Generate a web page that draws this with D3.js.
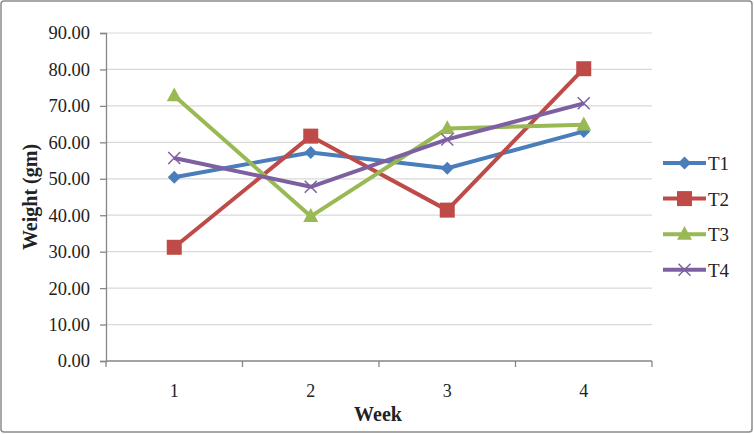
<!DOCTYPE html>
<html>
<head>
<meta charset="utf-8">
<script src="https://cdn.jsdelivr.net/npm/d3@7"></script>
<style>
  body { margin: 0; background: #fff; }
  text { font-family: "Liberation Serif", "DejaVu Serif", serif; fill: #222; }
</style>
</head>
<body>
<div id="Chart"></div>
<script>
// data
const weeks = ["1", "2", "3", "4"]
const seriesNames = ["T1", "T2", "T3", "T4"]
const t1 = [50.4, 57.2, 52.9, 63.0]
const t2 = [31.2, 61.7, 41.4, 80.2]
const t3 = [72.8, 39.7, 63.8, 64.8]
const t4 = [55.7, 47.8, 60.8, 70.7]
const yTicks = [0, 10, 20, 30, 40, 50, 60, 70, 80, 90]

const colors = ["#4a7ebb", "#be4b48", "#98b954", "#7d60a0"]
const shapes = ["diamond", "square", "triangle", "cross"]
const series = seriesNames.map((n, i) => ({name: n, values: [t1, t2, t3, t4][i], color: colors[i], shape: shapes[i]}))

var Width = 754, Height = 434
var margin = {top: 33, right: 102, bottom: 73, left: 106},
    width = Width - margin.left - margin.right,
    height = Height - margin.top - margin.bottom

var root = d3.select("#Chart").append("svg")
    .attr("width", Width)
    .attr("height", Height)

// outer chart border
root.append("rect")
    .attr("x", 1).attr("y", 1)
    .attr("width", Width - 3).attr("height", Height - 3)
    .attr("rx", 3)
    .attr("fill", "#fff")
    .attr("stroke", "#8c8c8c")
    .attr("stroke-width", 1.5)

var svg = root.append("g")
    .attr("transform", `translate(${margin.left},${margin.top})`)

var X = d3.scaleBand().domain(weeks).range([0, width]).padding(0)
var Y = d3.scaleLinear().domain([0, 90]).range([height, 0])

// gridlines
svg.append("g").selectAll("line")
    .data(yTicks.slice(1))
    .enter().append("line")
      .attr("x1", 0).attr("x2", width)
      .attr("y1", d => Y(d)).attr("y2", d => Y(d))
      .attr("stroke", "#d9d9d9").attr("stroke-width", 1.2)

// y axis
var yAxis = svg.append("g")
    .call(d3.axisLeft(Y).tickValues(yTicks).tickFormat(d3.format(".2f")).tickSize(6).tickPadding(10))
yAxis.select(".domain").attr("stroke", "#868686").attr("stroke-width", 1.3)
yAxis.selectAll(".tick line").attr("stroke", "#868686").attr("stroke-width", 1.3)
yAxis.selectAll("text").style("font-size", "18.5px").attr("fill", "#333")

// x axis: ticks on category boundaries
var xAxis = svg.append("g")
    .attr("transform", `translate(0,${height})`)
    .call(d3.axisBottom(X).tickSize(0).tickPadding(23))
xAxis.select(".domain").remove()
xAxis.selectAll("text").style("font-size", "18px").attr("fill", "#333")
svg.append("line")
    .attr("x1", 0).attr("x2", width)
    .attr("y1", height).attr("y2", height)
    .attr("stroke", "#868686").attr("stroke-width", 1.3)
svg.append("g").selectAll("line")
    .data(d3.range(weeks.length + 1))
    .enter().append("line")
      .attr("x1", d => d * X.step()).attr("x2", d => d * X.step())
      .attr("y1", height).attr("y2", height + 6)
      .attr("stroke", "#868686").attr("stroke-width", 1.3)

// axis titles
svg.append("text")
    .attr("x", width / 2 - 1).attr("y", height + 60)
    .attr("text-anchor", "middle")
    .style("font-size", "20px").style("font-weight", "bold")
    .text("Week")
svg.append("text")
    .attr("transform", `translate(-69,${height / 2}) rotate(-90)`)
    .attr("text-anchor", "middle")
    .style("font-size", "20px").style("font-weight", "bold")
    .text("Weight (gm)")

function marker(sel, shape, color, s) {
  if (shape === "diamond") {
    sel.append("path").attr("d", `M0,${-s}L${s},0L0,${s}L${-s},0Z`).attr("fill", color)
  } else if (shape === "square") {
    sel.append("rect").attr("x", -s).attr("y", -s).attr("width", 2 * s).attr("height", 2 * s).attr("fill", color)
  } else if (shape === "triangle") {
    sel.append("path").attr("d", `M0,${-s * 1.1}L${s},${s * 0.75}L${-s},${s * 0.75}Z`).attr("fill", color)
  } else {
    sel.append("path").attr("d", `M${-s},${-s}L${s},${s}M${-s},${s}L${s},${-s}`)
      .attr("stroke", color).attr("stroke-width", 1.5).attr("fill", "none")
  }
}
const mSize = {diamond: 6.5, square: 7.5, triangle: 7.5, cross: 6}

var line = d3.line()
    .x((d, i) => X(weeks[i]) + X.bandwidth() / 2)
    .y(d => Y(d))

series.forEach(s => {
  var g = svg.append("g")
  g.append("path")
      .datum(s.values)
      .attr("d", line)
      .attr("fill", "none")
      .attr("stroke", s.color)
      .attr("stroke-width", 4)
      .attr("stroke-linejoin", "round")
  s.values.forEach((v, i) => {
    var m = g.append("g")
        .attr("transform", `translate(${X(weeks[i]) + X.bandwidth() / 2},${Y(v)})`)
    marker(m, s.shape, s.color, mSize[s.shape])
  })
})

// legend
var legend = root.append("g").attr("transform", "translate(663,163)")
series.forEach((s, i) => {
  var lg = legend.append("g").attr("transform", `translate(0,${i * 35.6})`)
  lg.append("line").attr("x1", 0).attr("x2", 43).attr("y1", 0).attr("y2", 0)
    .attr("stroke", s.color).attr("stroke-width", 4)
  var m = lg.append("g").attr("transform", "translate(21.5,0)")
  marker(m, s.shape, s.color, mSize[s.shape])
  lg.append("text").attr("x", 45).attr("y", 7)
    .style("font-size", "19px")
    .text(s.name)
})
</script>
</body>
</html>
